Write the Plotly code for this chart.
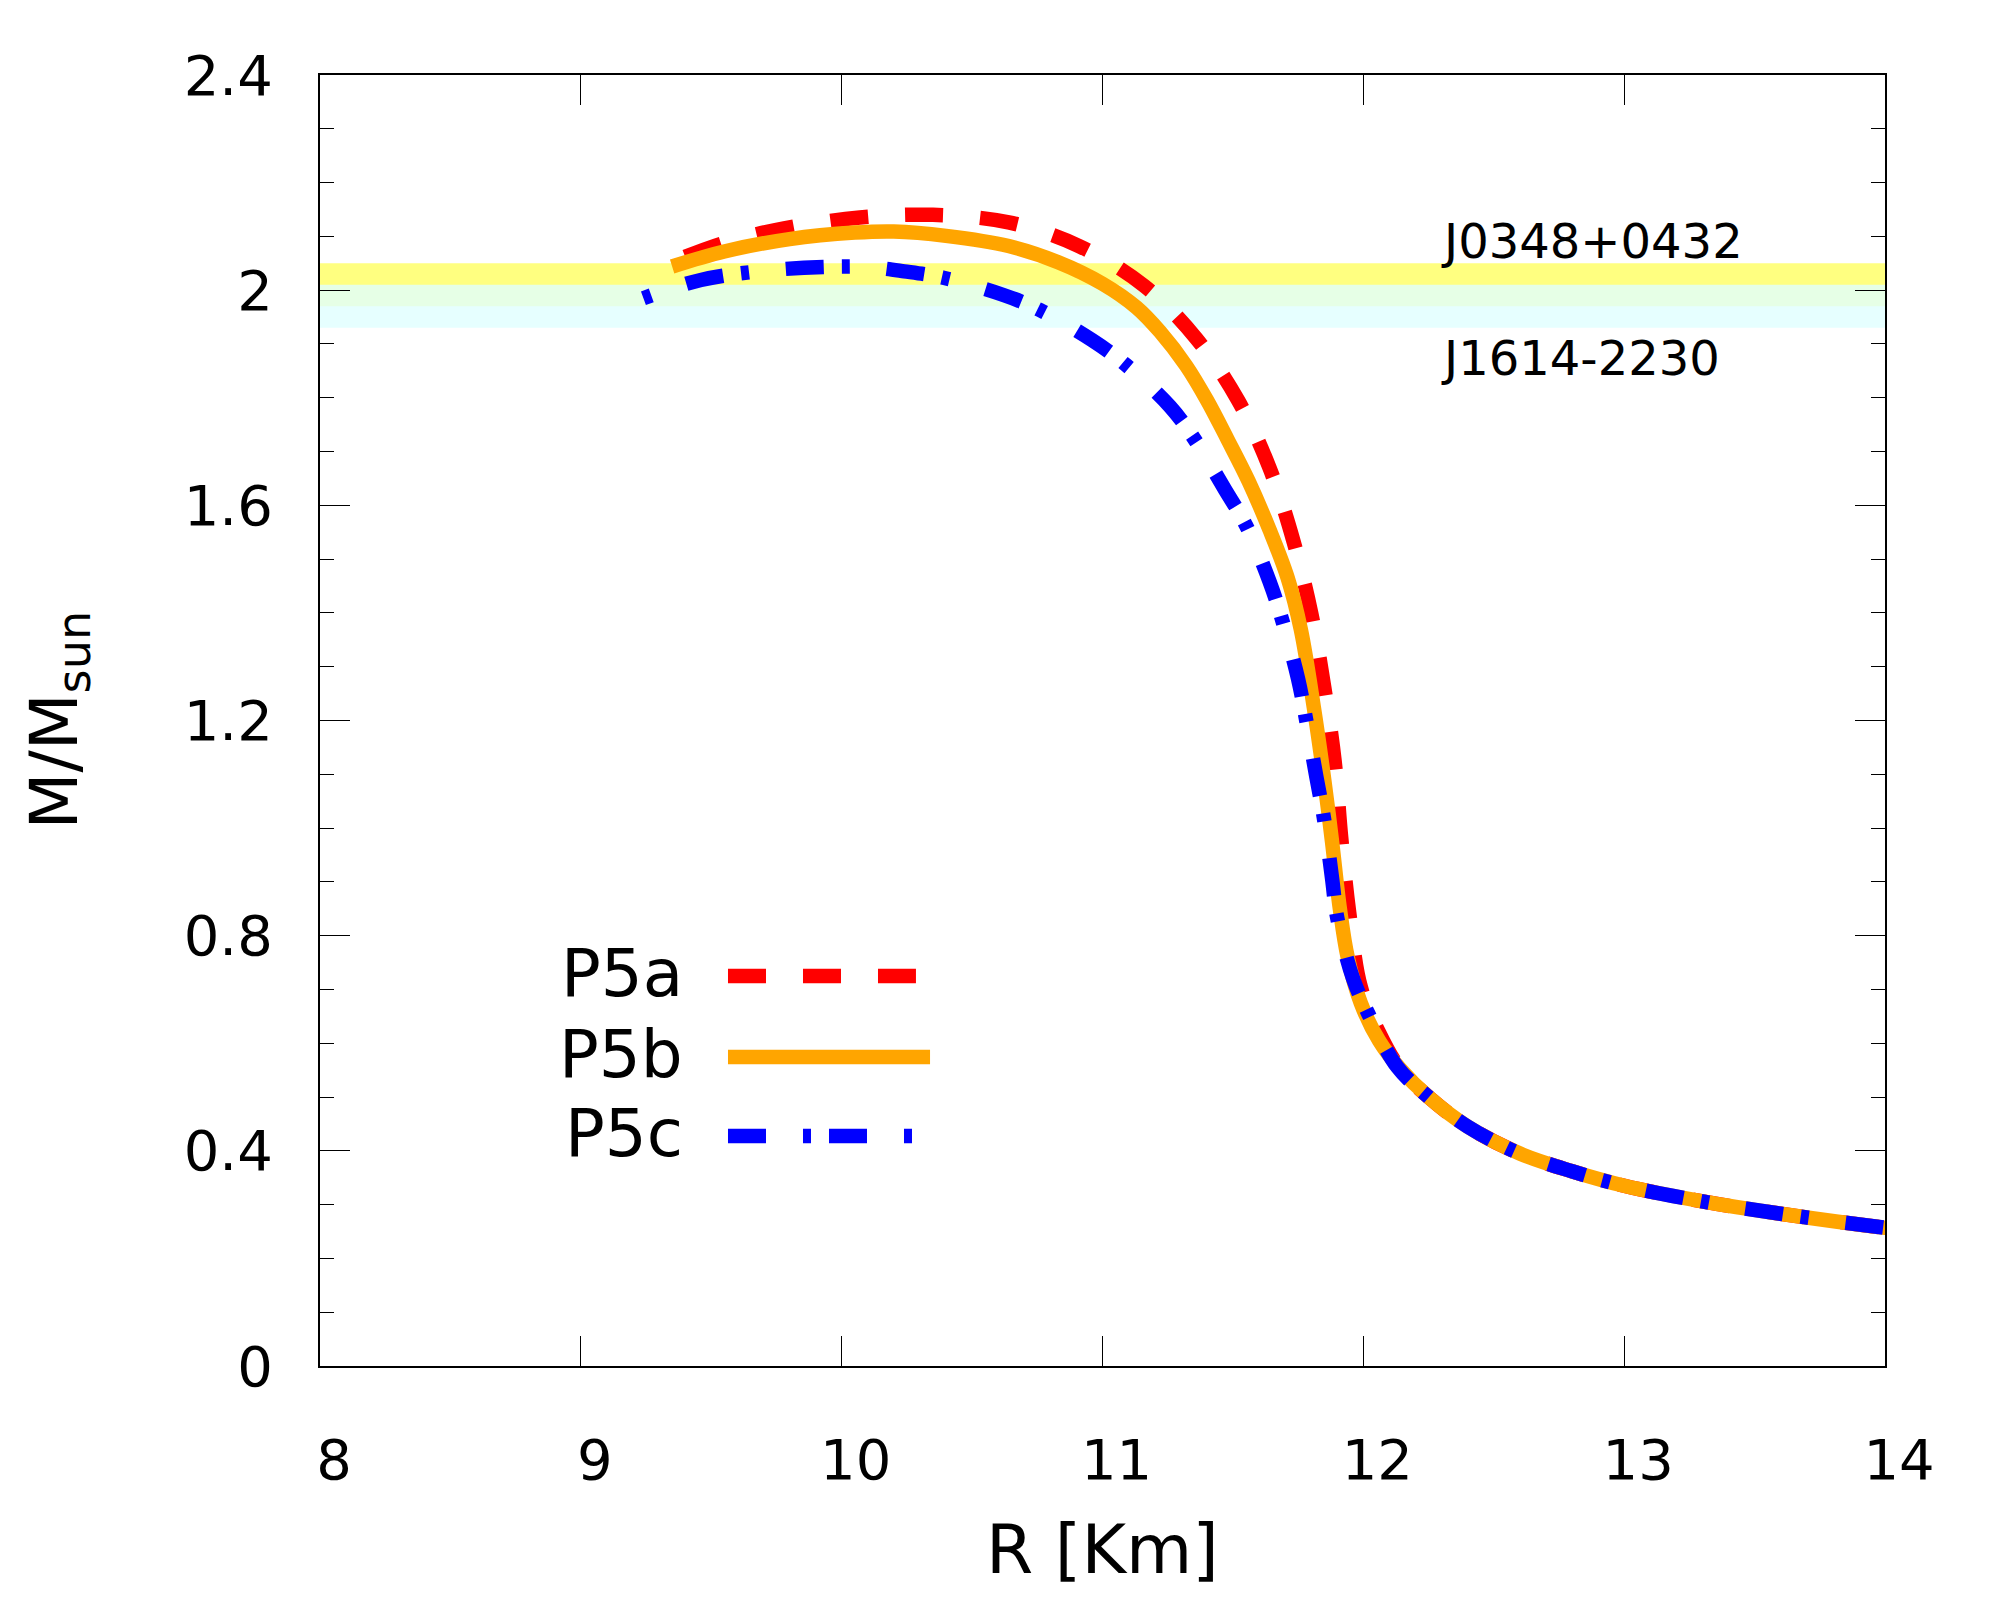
import plotly.graph_objects as go

# ---- data ----
r_p5a = [9.40, 9.55, 9.78, 10.07, 10.35, 10.64, 10.91, 11.16, 11.36, 11.52, 11.64, 11.73, 11.80, 11.85,
         11.89, 11.915, 11.945, 11.99, 12.06, 12.14, 12.25, 12.40, 12.60, 12.80, 13.00, 13.30, 13.60,
         14.00, 14.20]
m_p5a = [2.062, 2.088, 2.115, 2.135, 2.140, 2.126, 2.082, 2.008, 1.910, 1.795, 1.670, 1.537, 1.400, 1.262,
         1.124, 0.983, 0.846, 0.705, 0.620, 0.553, 0.500, 0.445, 0.395, 0.362, 0.335, 0.306, 0.283,
         0.257, 0.247]

r_p5b = [9.35, 9.55, 9.80, 10.05, 10.20, 10.40, 10.64, 10.83, 11.00, 11.13, 11.22, 11.32, 11.40, 11.48,
         11.56, 11.64, 11.71, 11.76, 11.81, 11.85, 11.88, 11.91, 11.94, 11.99, 12.06, 12.14, 12.25, 12.40,
         12.60, 12.80, 13.00, 13.30, 13.60, 14.00, 14.20]
m_p5b = [2.044, 2.072, 2.095, 2.107, 2.109, 2.101, 2.082, 2.052, 2.012, 1.968, 1.923, 1.860, 1.796, 1.722,
         1.645, 1.555, 1.465, 1.370, 1.225, 1.090, 0.975, 0.850, 0.760, 0.675, 0.605, 0.553, 0.500, 0.445,
         0.395, 0.362, 0.335, 0.306, 0.283, 0.257, 0.247]

r_p5c = [9.24, 9.46, 9.70, 9.93, 10.10, 10.24, 10.39, 10.62, 10.76, 10.96, 11.09, 11.26, 11.35, 11.47,
         11.55, 11.64, 11.69, 11.75, 11.78, 11.82, 11.85, 11.88, 11.90, 11.96, 12.02, 12.13, 12.25, 12.40,
         12.60, 12.80, 13.00, 13.30, 13.60, 14.00, 14.20]
m_p5c = [1.985, 2.019, 2.036, 2.043, 2.043, 2.035, 2.023, 1.991, 1.963, 1.907, 1.861, 1.783, 1.725, 1.629,
         1.563, 1.459, 1.385, 1.277, 1.203, 1.095, 1.015, 0.907, 0.833, 0.721, 0.654, 0.556, 0.500, 0.445,
         0.395, 0.362, 0.335, 0.306, 0.283, 0.257, 0.247]

series_names = ["P5a", "P5b", "P5c"]
series_colors = ["#ff0000", "#ffa500", "#0000ff"]
series_dash = ["38px,37px", "solid", "8px,37px,38px,18px"]
legend_dash = ["38px,37px", "solid", "38px,37px,8px,18px"]

# pulsar mass bands
band_names = ["J0348+0432", "J1614-2230"]
band_lo = [1.97, 1.93]
band_hi = [2.05, 2.01]
band_colors = ["#ffff80", "rgba(224,255,255,0.8)"]
band_label_x = [12.29, 12.29]
band_label_y = [2.091, 1.874]

x_ticks = [8, 9, 10, 11, 12, 13, 14]
y_ticks = [0, 0.4, 0.8, 1.2, 1.6, 2, 2.4]
y_ticklabels = ["0", "0.4", "0.8", "1.2", "1.6", "2", "2.4"]

FONT = "DejaVu Sans"

fig = go.Figure()

xs = [r_p5a, r_p5b, r_p5c]
ys = [m_p5a, m_p5b, m_p5c]
for name, x, y, c, d in zip(series_names, xs, ys, series_colors, series_dash):
    fig.add_trace(go.Scatter(x=x, y=y, mode="lines", name=name,
                             line=dict(color=c, width=14.5, dash=d, shape="spline", smoothing=1.0),
                             showlegend=False))

shapes = []
for lo, hi, col in zip(band_lo, band_hi, band_colors):
    shapes.append(dict(type="rect", xref="paper", yref="y", x0=0, x1=1, y0=lo, y1=hi,
                       fillcolor=col, line=dict(width=0), layer="below"))

# legend samples (gnuplot-style: text left, line right)
leg_y = [0.3021, 0.2394, 0.1782]
leg_x1 = [0.3808, 0.3898, 0.3808]
annotations = []
for name, c, d, yy, x1 in zip(series_names, series_colors, legend_dash, leg_y, leg_x1):
    shapes.append(dict(type="line", xref="paper", yref="paper", x0=0.2607, x1=x1, y0=yy, y1=yy,
                       line=dict(color=c, width=14.5, dash=d)))
    annotations.append(dict(text=name, xref="paper", yref="paper", x=0.2335, y=yy + 0.002,
                            xanchor="right", yanchor="middle", showarrow=False,
                            font=dict(family=FONT, size=66, color="black")))

for name, bx, by in zip(band_names, band_label_x, band_label_y):
    annotations.append(dict(text=name, xref="x", yref="y", x=bx, y=by, xanchor="left", yanchor="middle",
                            showarrow=False, font=dict(family=FONT, size=48, color="black")))

annotations.append(dict(text="R [Km]", xref="paper", yref="paper", x=0.5, y=-0.1425,
                        xanchor="center", yanchor="middle", showarrow=False,
                        font=dict(family=FONT, size=68, color="black")))
annotations.append(dict(text="M/M<sub>sun</sub>", xref="paper", yref="paper", x=-0.1674, y=0.5,
                        xanchor="center", yanchor="middle", textangle=-90, showarrow=False,
                        font=dict(family=FONT, size=66, color="black")))

fig.update_layout(
    width=2000, height=1600,
    margin=dict(l=320, r=115, t=75, b=234),
    paper_bgcolor="white", plot_bgcolor="white",
    shapes=shapes, annotations=annotations,
    font=dict(family=FONT, color="black"),
    xaxis=dict(range=[8, 14], tickvals=x_ticks, ticks="inside", ticklen=30, tickwidth=1,
               tickcolor="black", showline=True, linewidth=2, linecolor="black", mirror="ticks",
               showgrid=False, zeroline=False, tickfont=dict(family=FONT, size=56),
               ticklabelstandoff=44, ticklabelshift=14),
    yaxis=dict(range=[0, 2.4], tickvals=y_ticks, ticktext=y_ticklabels, ticks="inside", ticklen=30,
               tickwidth=1, tickcolor="black", showline=True, linewidth=2, linecolor="black",
               mirror="ticks", showgrid=False, zeroline=False, tickfont=dict(family=FONT, size=56),
               ticklabelstandoff=34,
               minor=dict(dtick=0.1, tick0=0, ticks="inside", ticklen=14, tickwidth=1, tickcolor="black",
                          showgrid=False)),
)

fig.write_html("out.html")
